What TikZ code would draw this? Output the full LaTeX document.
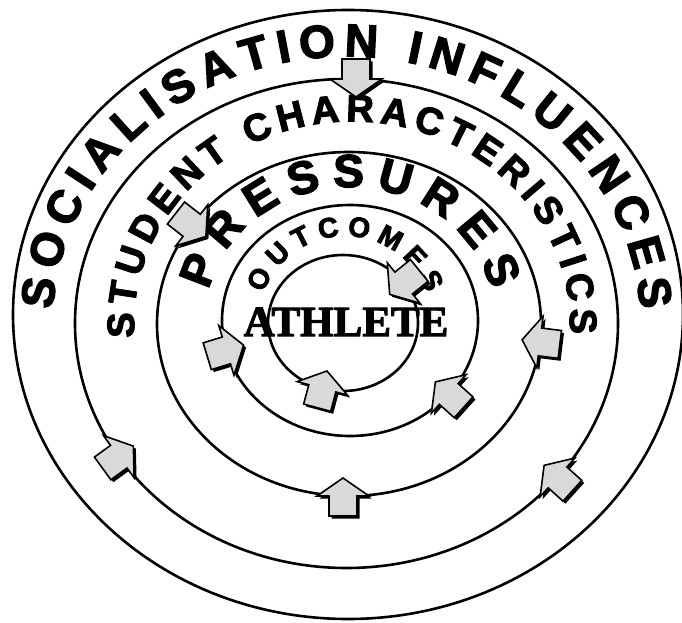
\documentclass[tikz,border=0pt]{standalone}
\usepackage{fontspec}
\setmainfont{Liberation Serif}[BoldFeatures={FakeBold=2.5}]
\newfontfamily\ringfont{Liberation Sans}[BoldFeatures={FakeBold=3}]
\usetikzlibrary{decorations.text,calc}
\begin{document}
\begin{tikzpicture}[x=1pt,y=1pt]
\useasboundingbox (0,0) rectangle (682,622);
\tikzset{
  ring/.style={line width=2.6pt},
  ringtext/.style={decorate, decoration={text along path, text align={fit to path}, text={#1}}},
  pics/blockarr/.style={code={
    \fill[black, shift={(2.5,-2.5)}, rotate=#1] (-14,-20) -- (14,-20) -- (14,0) -- (26,0) -- (0,18) -- (-26,0) -- (-14,0) -- cycle;
    \filldraw[fill=black!15, draw=black, line width=1.6pt, rotate=#1] (-14,-20) -- (14,-20) -- (14,0) -- (26,0) -- (0,18) -- (-26,0) -- (-14,0) -- cycle;
  }}
}
% centres
\coordinate (c1) at (348,307.5);
\coordinate (c2) at (346.5,298.5);
\coordinate (c3) at (349,298);
\coordinate (c4) at (350,301.5);
\coordinate (c5) at (343,299);
% ellipses
\draw[ring] (c1) ellipse [x radius=335, y radius=304.5];
\draw[ring] (c2) ellipse [x radius=271.5, y radius=244.5];
\draw[ring] (c3) ellipse [x radius=192, y radius=172];
\draw[ring] (c4) ellipse [x radius=128, y radius=115.5];
\draw[ring] (c5) ellipse [x radius=75, y radius=68];
% ring texts
\path[ringtext={|\ringfont\bfseries\fontsize{46}{46}\selectfont|SOCIALISATION INFLUENCES}]
  ($(c2)+(177:294 and 267)$) arc[start angle=177, end angle=3, x radius=294, y radius=267];
\path[ringtext={|\ringfont\bfseries\fontsize{38}{38}\selectfont|STUDENT CHARACTERISTICS}]
  ($(352,298.5)+(184:218 and 202)$) arc[start angle=184, end angle=-3, x radius=218, y radius=202];
\path[ringtext={|\ringfont\bfseries\fontsize{46}{46}\selectfont|PRESSURES}]
  ($(350,302)+(167:145 and 133)$) arc[start angle=167, end angle=13, x radius=145, y radius=133];
\path[ringtext={|\ringfont\bfseries\fontsize{28}{28}\selectfont|OUTCOMES}]
  ($(345,299)+(160:87 and 87)$) arc[start angle=160, end angle=20, x radius=87, y radius=87];
% centre label
\node[anchor=base, inner sep=0pt] (athlete) at (346,286) {\bfseries\fontsize{43}{43}\selectfont ATHLETE};
% block arrows
\pic at (356,543) {blockarr=180};
\pic at (343,126) {blockarr=0};
\pic at ($(c3)+(145:192 and 172)$) {blockarr=-128};
\pic at ($(c5)+(36:75 and 68)$) {blockarr=129};
\pic at ($(c4)+(195:128 and 115.5)$) {blockarr=-73};
\pic at ($(c3)+(-6:192 and 172)$) {blockarr=83};
\pic at ($(c5)+(254:75 and 68)$) {blockarr=-15};
\pic at ($(c4)+(-39.5:128 and 115.5)$) {blockarr=48};
\pic at ($(c2)+(213:271.5 and 244.5)$) {blockarr=-54};
\pic at ($(c2)+(-39:271.5 and 244.5)$) {blockarr=48};
\end{tikzpicture}
\end{document}
